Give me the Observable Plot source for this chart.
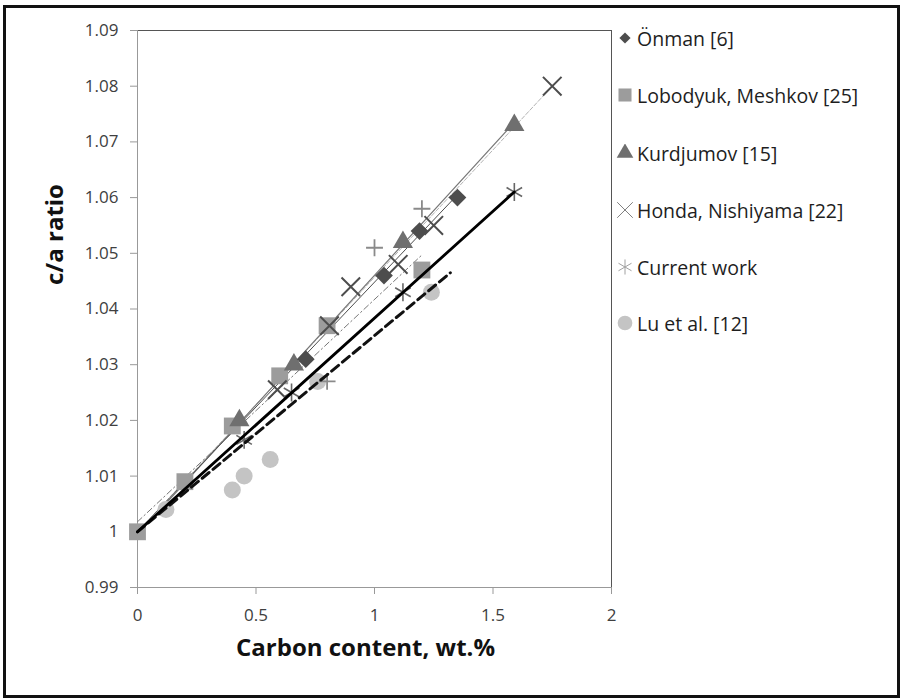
<!DOCTYPE html>
<html><head><meta charset="utf-8">
<script src="https://cdn.jsdelivr.net/npm/d3@7"></script>
<script src="https://cdn.jsdelivr.net/npm/@observablehq/plot@0.6"></script>
<style>
body{margin:0;background:#fff;}
#wrap{position:relative;width:903px;height:700px;overflow:hidden;font-family:"Open Sans",sans-serif;background:#fff;}
#border{position:absolute;left:3px;top:5px;width:891px;height:687px;border:3px solid #111;pointer-events:none;}
#chart{position:absolute;left:0;top:0;}
#legend{position:absolute;left:616px;top:0;}
.item{position:absolute;left:0;height:30px;display:flex;align-items:center;white-space:nowrap;font-size:19.5px;color:#1e1e1e;}
.item svg{margin-right:3px;}
</style></head>
<body>
<div id="wrap"><div id="chart"></div><div id="legend"></div><div id="border"></div></div>
<script>
// ---- data ----
const onmanC = [0.71, 1.04, 1.19, 1.35];
const onmanR = [1.031, 1.046, 1.054, 1.060];
const lobodyukC = [0, 0.2, 0.4, 0.6, 0.8, 1.2];
const lobodyukR = [1.000, 1.009, 1.019, 1.028, 1.037, 1.047];
const kurdC = [0.43, 0.66, 1.12, 1.59];
const kurdR = [1.020, 1.030, 1.052, 1.073];
const hondaC = [0.59, 0.81, 0.90, 1.10, 1.25, 1.75];
const hondaR = [1.0255, 1.037, 1.044, 1.048, 1.055, 1.080];
const currentC = [0.45, 0.65, 1.12, 1.59];
const currentR = [1.0165, 1.025, 1.043, 1.061];
const luC = [0.12, 0.40, 0.45, 0.56, 0.76, 1.24];
const luR = [1.004, 1.0075, 1.010, 1.013, 1.027, 1.043];
const plusC = [0.80, 1.00, 1.20];
const plusR = [1.027, 1.051, 1.058];

// trend lines (end points)
const onmanFitC = [0, 1.35],   onmanFitR = [1.0, 1.0605];
const lobFitC = [0, 1.2],      lobFitR = [1.0018, 1.0497];
const kurdFitC = [0, 1.59],    kurdFitR = [0.9995, 1.0735];
const hondaFitC = [0, 1.75],   hondaFitR = [1.0, 1.080];
const currentFitC = [0, 1.59], currentFitR = [1.0, 1.061];
const luFitC = [0, 1.32],      luFitR = [1.0, 1.0465];

const xTicks = [0, 0.5, 1, 1.5, 2];
const xTickLabels = ["0", "0.5", "1", "1.5", "2"];
const yTicks = [0.99, 1.00, 1.01, 1.02, 1.03, 1.04, 1.05, 1.06, 1.07, 1.08, 1.09];
const yTickLabels = ["0.99", "1", "1.01", "1.02", "1.03", "1.04", "1.05", "1.06", "1.07", "1.08", "1.09"];

const legendNames = ["Önman [6]", "Lobodyuk, Meshkov [25]", "Kurdjumov [15]", "Honda, Nishiyama [22]", "Current work", "Lu et al. [12]"];
const xLabel = "Carbon content, wt.%";
const yLabel = "c/a ratio";

const pts = (cs, rs) => cs.map((c, i) => ({c, r: rs[i]}));

const chart = Plot.plot({
  width: 903, height: 700,
  marginLeft: 137, marginRight: 292, marginTop: 30, marginBottom: 113,
  x: {domain: [0, 2]},
  y: {domain: [0.99, 1.09]},
  style: {fontFamily: "Open Sans", fontSize: "17px", color: "#404040", background: "transparent", overflow: "visible"},
  marks: [
    Plot.frame({stroke: "#555"}),
    Plot.ruleX([0], {stroke: "#999"}),
    Plot.ruleY([0.99], {stroke: "#999"}),
    Plot.axisY({ticks: yTicks, tickSize: 7, tickPadding: 12, stroke: "#999", fill: "#404040",
      tickFormat: (d, i) => yTickLabels[i], label: null}),
    Plot.axisX({ticks: xTicks, tickSize: 7, tickPadding: 14, stroke: "#999", fill: "#404040",
      tickFormat: (d, i) => xTickLabels[i], label: null}),
    Plot.text([yLabel], {frameAnchor: "left", dx: -82, dy: -24, rotate: -90, fontWeight: "bold", fontSize: 24, fill: "#111"}),
    Plot.text([xLabel], {frameAnchor: "bottom", dx: -9, dy: 68, fontWeight: "bold", fontSize: 24, fill: "#111"}),
    // thin trend lines
    Plot.line(pts(hondaFitC, hondaFitR), {x: "c", y: "r", stroke: "#b3b3b3", strokeWidth: 1, strokeDasharray: "4,2"}),
    Plot.line(pts(kurdFitC, kurdFitR), {x: "c", y: "r", stroke: "#777", strokeWidth: 1.2}),
    Plot.line(pts(onmanFitC, onmanFitR), {x: "c", y: "r", stroke: "#4d4d4d", strokeWidth: 1}),
    Plot.line(pts(lobFitC, lobFitR), {x: "c", y: "r", stroke: "#777", strokeWidth: 1, strokeDasharray: "6,3,1.5,3"}),
    // markers
    Plot.dot(pts(luC, luR), {x: "c", y: "r", r: 8.5, fill: "#c4c4c4", stroke: "none"}),
    Plot.dot(pts(lobodyukC, lobodyukR), {x: "c", y: "r", symbol: "square", r: 9.5, fill: "#9c9c9c", stroke: "none"}),
    Plot.dot(pts(kurdC, kurdR), {x: "c", y: "r", symbol: "triangle", r: 7.5, fill: "#6f6f6f", stroke: "none"}),
    Plot.dot(pts(onmanC, onmanR), {x: "c", y: "r", symbol: "diamond2", r: 8, fill: "#4d4d4d", stroke: "none"}),
    Plot.dot(pts(plusC, plusR), {x: "c", y: "r", symbol: "plus", r: 5.5, stroke: "#8a8a8a", strokeWidth: 1.8}),
    Plot.dot(pts(hondaC, hondaR), {x: "c", y: "r", symbol: "times", r: 8.5, stroke: "#4d4d4d", strokeWidth: 2}),
    Plot.dot(pts(currentC, currentR), {x: "c", y: "r", symbol: "asterisk", r: 8.5, stroke: "#666", strokeWidth: 1.6}),
    // bold trend lines
    Plot.line(pts(luFitC, luFitR), {x: "c", y: "r", stroke: "#111", strokeWidth: 3, strokeDasharray: "9,5"}),
    Plot.line(pts(currentFitC, currentFitR), {x: "c", y: "r", stroke: "#000", strokeWidth: 2.8})
  ]
});
document.getElementById("chart").appendChild(chart);

// legend
const legendSymbols = [
  {sym: d3.symbolDiamond2, size: 80, fill: "#4d4d4d", stroke: "none", sw: 0},
  {sym: d3.symbolSquare, size: 170, fill: "#9c9c9c", stroke: "none", sw: 0},
  {sym: d3.symbolTriangle, size: 120, fill: "#6f6f6f", stroke: "none", sw: 0},
  {sym: d3.symbolTimes, size: 160, fill: "none", stroke: "#808080", sw: 1},
  {sym: d3.symbolAsterisk, size: 160, fill: "none", stroke: "#a0a0a0", sw: 1},
  {sym: d3.symbolCircle, size: 170, fill: "#c4c4c4", stroke: "none", sw: 0}
];
const legendY = [38, 95, 153, 210, 267, 323];
const leg = document.getElementById("legend");
legendNames.forEach((name, i) => {
  const s = legendSymbols[i];
  const div = document.createElement("div");
  div.className = "item";
  div.style.top = (legendY[i] - 15) + "px";
  const path = d3.symbol(s.sym, s.size)();
  div.innerHTML = `<svg width="18" height="18" viewBox="-9 -9 18 18"><path d="${path}" fill="${s.fill}" stroke="${s.stroke}" stroke-width="${s.sw}"/></svg><span>${name}</span>`;
  leg.appendChild(div);
});
</script>
</body></html>
